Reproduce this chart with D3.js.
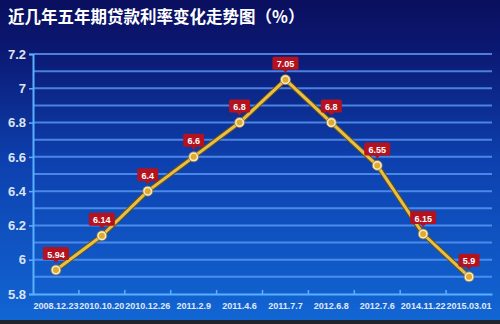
<!DOCTYPE html>
<html><head><meta charset="utf-8">
<script src="https://cdn.jsdelivr.net/npm/d3@7"></script>
<style>html,body{margin:0;padding:0;background:#20242c;}svg{display:block;}</style>
</head><body>
<svg id="c" width="500" height="324"></svg>
<script>
const title = "近几年五年期贷款利率变化走势图（%）";
const dates = ["2008.12.23","2010.10.20","2010.12.26","2011.2.9","2011.4.6","2011.7.7","2012.6.8","2012.7.6","2014.11.22","2015.03.01"];
const rates = [5.94, 6.14, 6.4, 6.6, 6.8, 7.05, 6.8, 6.55, 6.15, 5.9];
const rateLabels = ["5.94","6.14","6.4","6.6","6.8","7.05","6.8","6.55","6.15","5.9"];
const yTicks = [5.8, 6, 6.2, 6.4, 6.6, 6.8, 7, 7.2];
const yGrid = [5.9, 6.0, 6.1, 6.2, 6.3, 6.4, 6.5, 6.6, 6.7, 6.8, 6.9, 7.0, 7.1, 7.2];

const svg = d3.select("#c");
const W = 500, H = 324;
const defs = svg.append("defs");
const g = defs.append("linearGradient").attr("id","bg").attr("x1",0).attr("y1",0).attr("x2",0).attr("y2",1);
g.append("stop").attr("offset","0%").attr("stop-color","#0a0f5e");
g.append("stop").attr("offset","15%").attr("stop-color","#0b1872");
g.append("stop").attr("offset","50%").attr("stop-color","#0d40ae");
g.append("stop").attr("offset","100%").attr("stop-color","#1166d4");
svg.append("rect").attr("width",W).attr("height",320).attr("fill","url(#bg)");
svg.append("rect").attr("y",320).attr("width",W).attr("height",4).attr("fill","#20242c");

const x = d3.scaleBand().domain(dates).range([33, 492]);
const y = d3.scaleLinear().domain([5.8, 7.2]).range([294, 54]);

// title
svg.append("text").attr("x",8).attr("y",23).text(title)
  .attr("fill","#ffffff").attr("font-size",16.5).attr("font-weight","bold")
  .attr("font-family","'Noto Sans CJK SC', sans-serif");

// gridlines
svg.append("g").selectAll("line").data(yGrid).join("line")
  .attr("x1",34).attr("x2",492).attr("y1",d=>y(d)).attr("y2",d=>y(d))
  .attr("stroke","#5a9af4").attr("stroke-width",2).attr("stroke-opacity",0.8);

// y axis
const ya = svg.append("g").attr("transform","translate(33,0)")
  .call(d3.axisLeft(y).tickValues(yTicks).tickFormat(d3.format("~g")).tickSize(4).tickPadding(3));
ya.select(".domain").attr("stroke","#5ab0ff").attr("stroke-width",2);
ya.selectAll(".tick line").attr("stroke","#5ab0ff").attr("stroke-width",1.5);
ya.selectAll("text").attr("fill","#dde4f0").attr("font-size",13).attr("font-weight","bold")
  .attr("font-family","Arial, 'Liberation Sans', sans-serif");

// x axis
const xa = svg.append("g").attr("transform","translate(0,294)")
  .call(d3.axisBottom(x).tickSize(0).tickPadding(9));
xa.select(".domain").attr("stroke","#5ab0ff").attr("stroke-width",2);
xa.selectAll("text").attr("fill","#e0e8f4").attr("font-size",9).attr("font-weight","bold")
  .attr("font-family","Arial, 'Liberation Sans', sans-serif");
// boundary ticks
svg.append("g").selectAll("line").data(dates.slice(1)).join("line")
  .attr("x1",d=>x(d)).attr("x2",d=>x(d)).attr("y1",290).attr("y2",294)
  .attr("stroke","#5ab0ff").attr("stroke-width",1.5);

// line
const line = d3.line().x((d,i)=>x(dates[i])+x.bandwidth()/2).y(d=>y(d));
svg.append("path").datum(rates).attr("d",line).attr("fill","none")
  .attr("stroke","#6e5212").attr("stroke-width",5).attr("stroke-linejoin","round");
svg.append("path").datum(rates).attr("d",line).attr("fill","none")
  .attr("stroke","#e8c044").attr("stroke-width",3).attr("stroke-linejoin","round");

// points
const pts = svg.append("g").selectAll("g").data(rates).join("g")
  .attr("transform",(d,i)=>`translate(${x(dates[i])+x.bandwidth()/2},${y(d)})`);
pts.append("circle").attr("r",5).attr("fill","#f6ecc8").attr("stroke","#8a7040").attr("stroke-width",0.8);
pts.append("circle").attr("r",3).attr("fill","#e0aa2a");

// labels
const lb = svg.append("g").selectAll("g").data(rates).join("g")
  .attr("transform",(d,i)=>`translate(${x(dates[i])+x.bandwidth()/2},${y(d)-16})`);
lb.append("rect").attr("x",(d,i)=>-(rateLabels[i].length*5+6)/2).attr("y",-7)
  .attr("width",(d,i)=>rateLabels[i].length*5+6).attr("height",13).attr("rx",1.5)
  .attr("fill","#b4121e");
lb.append("path").attr("d","M-3,5.5L0,9L3,5.5Z").attr("fill","#b4121e");
lb.append("text").text((d,i)=>rateLabels[i]).attr("text-anchor","middle").attr("y",3.5)
  .attr("fill","#ffffff").attr("font-size",9).attr("font-weight","bold")
  .attr("font-family","Arial, 'Liberation Sans', sans-serif");
</script>
</body></html>
